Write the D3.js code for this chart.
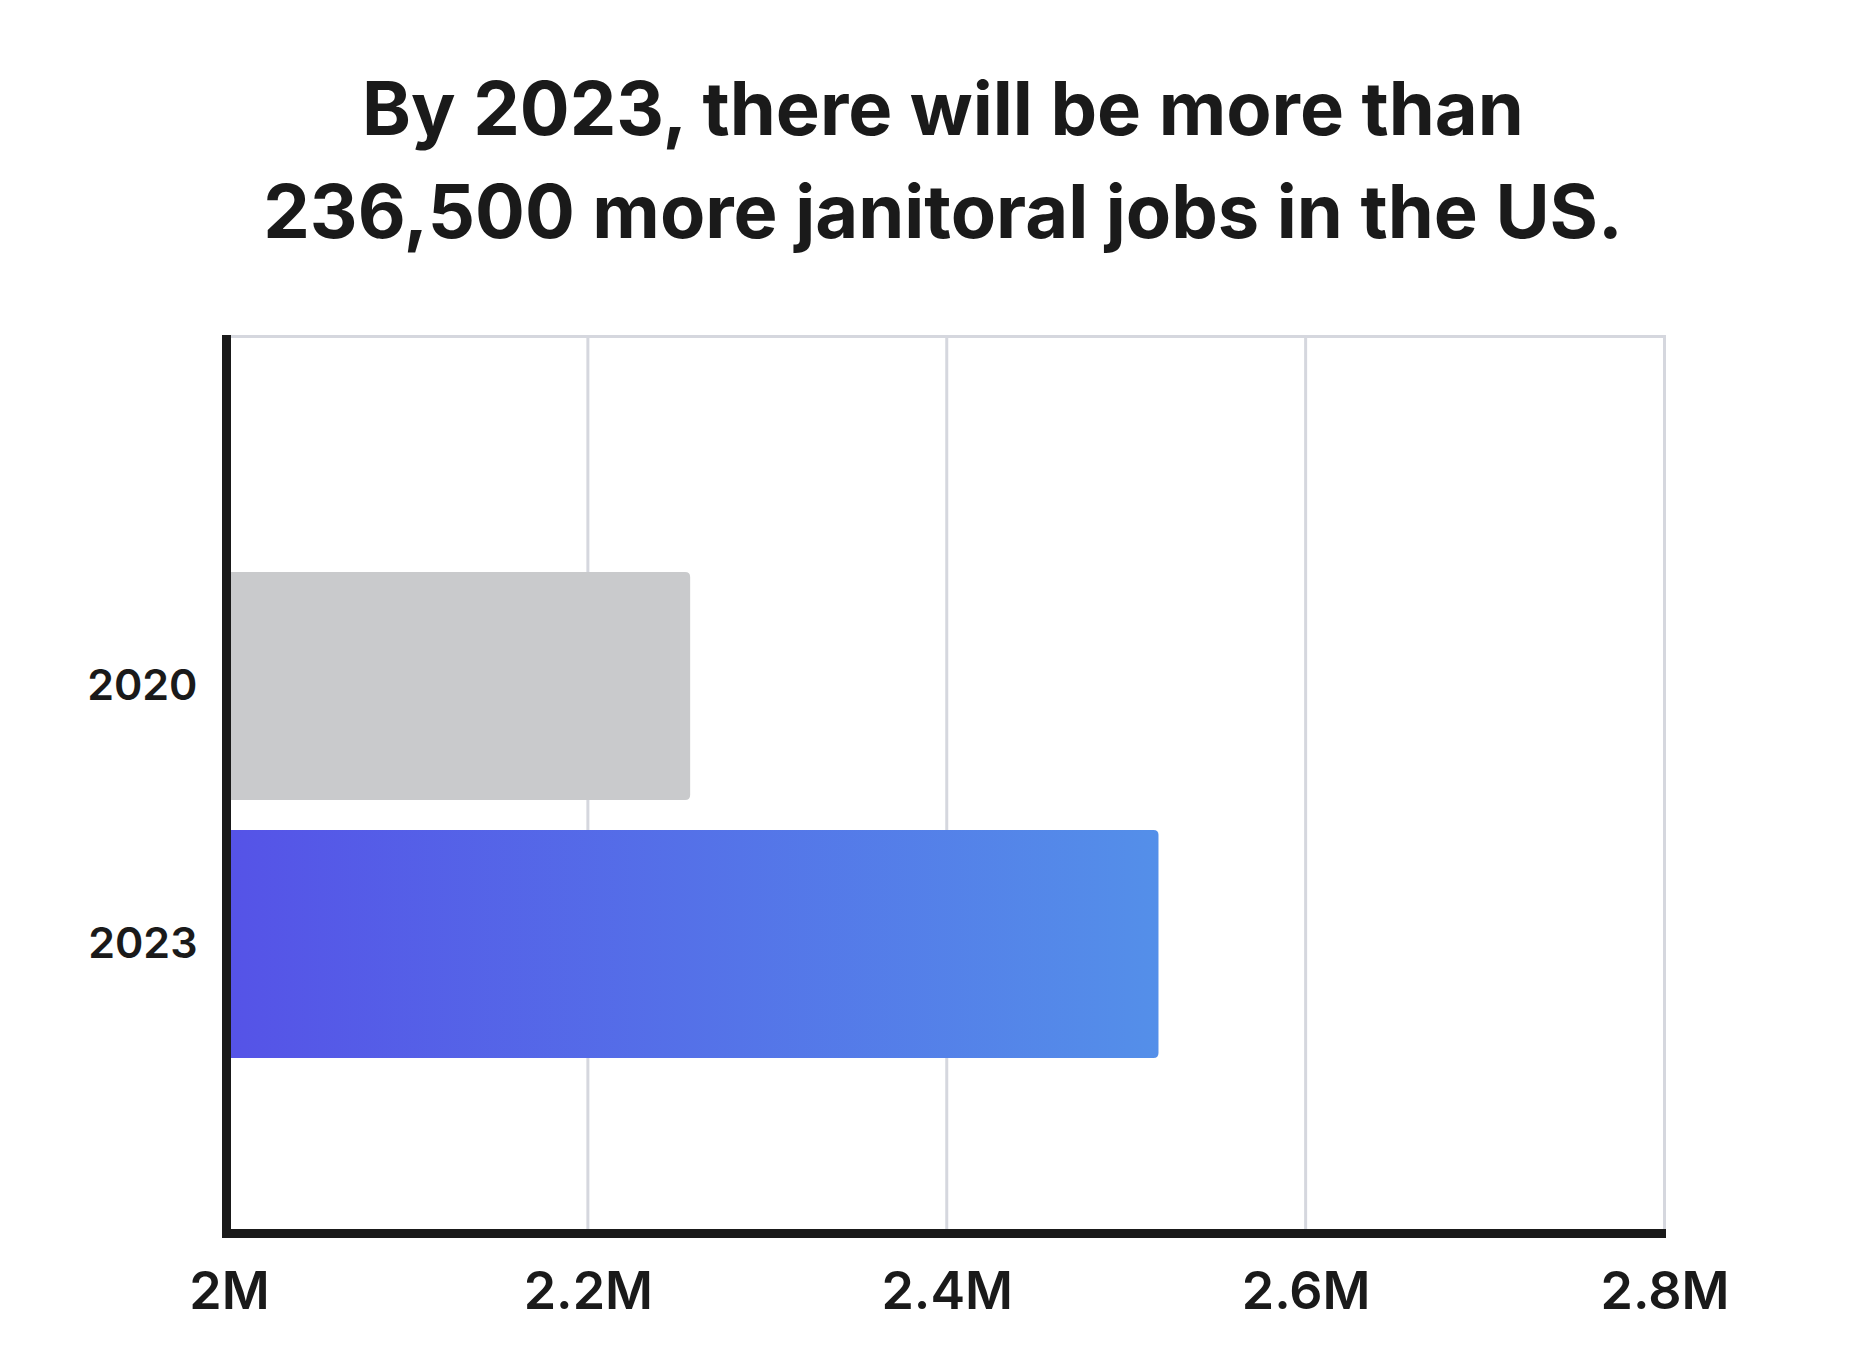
<!DOCTYPE html>
<html lang="en">
<head>
    <meta charset="UTF-8">
    <title>Janitorial jobs</title>
    <script src="https://cdn.jsdelivr.net/npm/d3@7"></script>
    <style type="text/css">
        body { margin: 0; background: #fff; }
        .title { font-family: Inter, "Noto Sans", sans-serif; font-weight: 700; fill: #1a1a1a; }
        .tick text { font-family: Inter, "Noto Sans", sans-serif; font-weight: 600; fill: #1a1a1a; }
    </style>
</head>
<body>
<div id="vis"></div>
<script type="text/javascript">
    // data
    let years = ["2020", "2023"];
    let jobs = [2.257, 2.518];          // millions
    let xTicks = [2, 2.2, 2.4, 2.6, 2.8];
    let xTickLabels = ["2M", "2.2M", "2.4M", "2.6M", "2.8M"];
    let titleLines = ["By 2023, there will be more than", "236,500 more janitoral jobs in the US."];

    let width = 1863, height = 1364;
    let plot = {left: 229, right: 1664.5, top: 336.5, bottom: 1233.5};

    let svg = d3.select("#vis").append("svg")
        .attr("width", width)
        .attr("height", height);

    let defs = svg.append("defs");
    let grad = defs.append("linearGradient")
        .attr("id", "barGrad")
        .attr("x1", "0%").attr("x2", "100%")
        .attr("y1", "0%").attr("y2", "0%");
    grad.append("stop").attr("offset", "0%").attr("stop-color", "#5553e7");
    grad.append("stop").attr("offset", "100%").attr("stop-color", "#548fe9");

    // title
    svg.append("text")
        .attr("class", "title")
        .attr("text-anchor", "middle")
        .style("font-size", "74px")
        .selectAll("tspan")
        .data(titleLines)
        .enter().append("tspan")
        .attr("x", 943)
        .attr("y", function (d, i) { return 135 + i * 103; })
        .text(function (d) { return d; });

    let xScale = d3.scaleLinear()
        .domain([2, 2.8])
        .range([plot.left, plot.right]);

    let yScale = d3.scaleBand()
        .domain(years)
        .range([572, 1058])
        .paddingInner(0.1163)
        .paddingOuter(0);

    // vertical gridlines
    svg.append("g")
        .selectAll("line")
        .data(xTicks.slice(1))
        .enter().append("line")
        .attr("x1", function (d) { return xScale(d); })
        .attr("x2", function (d) { return xScale(d); })
        .attr("y1", plot.top - 1.5)
        .attr("y2", plot.bottom)
        .attr("stroke", "#d5d7de")
        .attr("stroke-width", 3);

    // top gridline
    svg.append("line")
        .attr("x1", plot.left)
        .attr("x2", xScale(2.8) + 1.5)
        .attr("y1", plot.top)
        .attr("y2", plot.top)
        .attr("stroke", "#d5d7de")
        .attr("stroke-width", 3);

    // bars, rounded on the right end only
    function barPath(x0, x1, y0, h, r) {
        return "M" + x0 + "," + y0 +
            "H" + (x1 - r) +
            "Q" + x1 + "," + y0 + " " + x1 + "," + (y0 + r) +
            "V" + (y0 + h - r) +
            "Q" + x1 + "," + (y0 + h) + " " + (x1 - r) + "," + (y0 + h) +
            "H" + x0 + "Z";
    }

    svg.append("g")
        .selectAll("path")
        .data(years)
        .enter().append("path")
        .attr("d", function (d, i) {
            return barPath(xScale(2), xScale(jobs[i]), yScale(d), yScale.bandwidth(), 5);
        })
        .attr("fill", function (d, i) { return i === 0 ? "#c9cacc" : "url(#barGrad)"; });

    // x axis labels
    let xAxis = svg.append("g")
        .attr("transform", "translate(0," + plot.bottom + ")")
        .call(d3.axisBottom(xScale)
            .tickValues(xTicks)
            .tickFormat(function (d, i) { return xTickLabels[i]; })
            .tickSize(0)
            .tickPadding(39));
    xAxis.select(".domain").remove();
    xAxis.selectAll("text").style("font-size", "52px");

    // y axis labels
    let yAxis = svg.append("g")
        .attr("transform", "translate(226.5,0)")
        .call(d3.axisLeft(yScale).tickSize(0).tickPadding(29));
    yAxis.select(".domain").remove();
    yAxis.selectAll("text").style("font-size", "43px");

    // thick axis lines
    svg.append("line")
        .attr("x1", 226.5).attr("x2", 226.5)
        .attr("y1", 335).attr("y2", 1238)
        .attr("stroke", "#1a1a1a")
        .attr("stroke-width", 9);
    svg.append("line")
        .attr("x1", 222).attr("x2", xScale(2.8) + 1.5)
        .attr("y1", plot.bottom).attr("y2", plot.bottom)
        .attr("stroke", "#1a1a1a")
        .attr("stroke-width", 9);
</script>
</body>
</html>
